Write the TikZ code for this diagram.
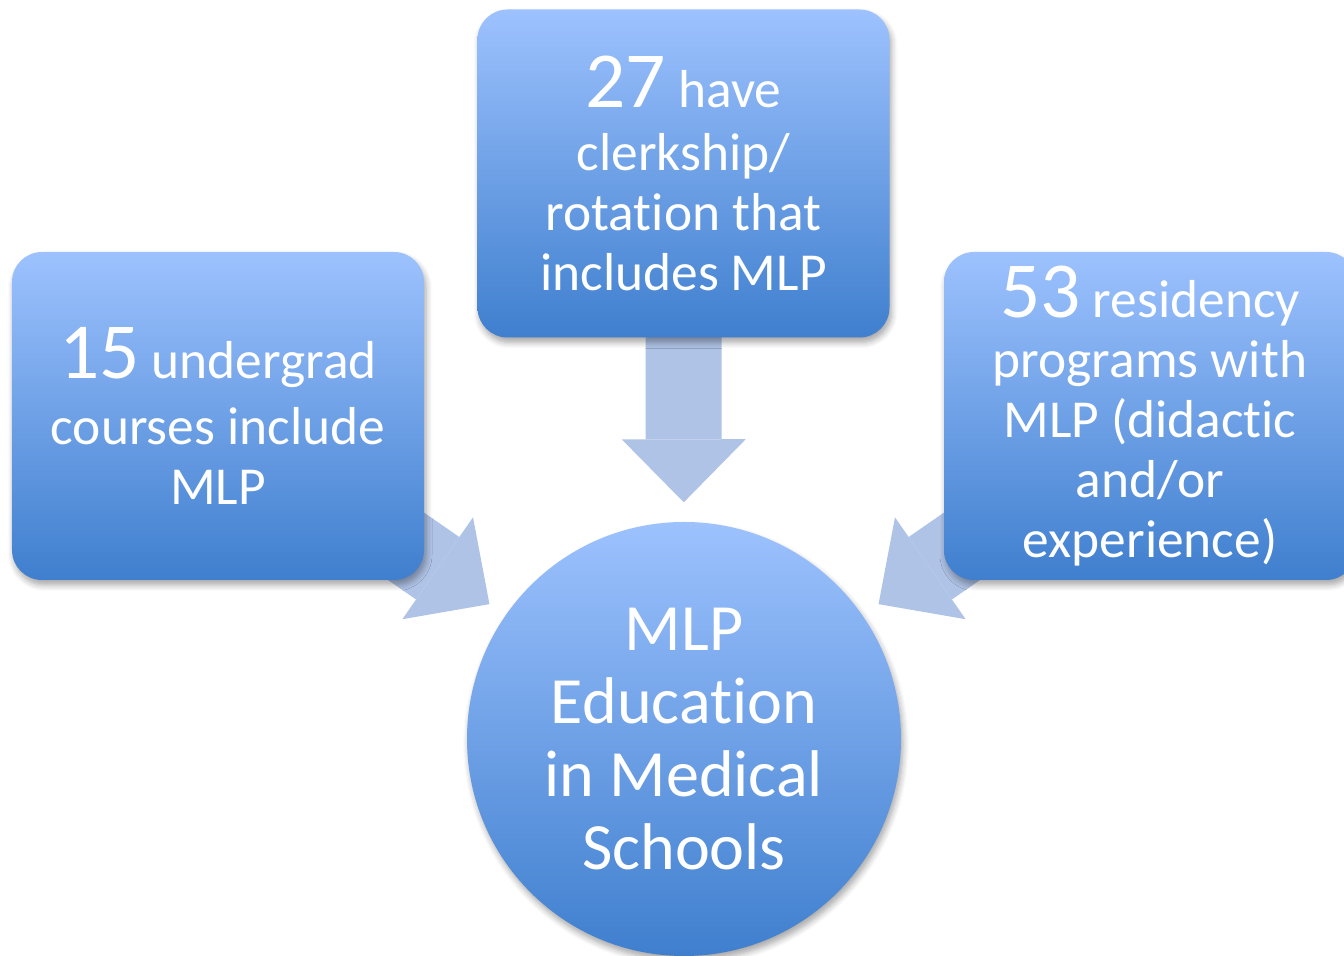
\documentclass[tikz,border=0pt]{standalone}
\usepackage{fontspec}
\setmainfont{Carlito}[Ligatures=NoCommon]
\usetikzlibrary{arrows.meta,shadows.blur,backgrounds}
\definecolor{boxtop}{HTML}{9DC2FE}
\definecolor{boxbottom}{HTML}{3F7FCE}
\definecolor{arrowfill}{HTML}{AFC3E6}
\newcommand\bignum[1]{{\fontsize{22.6}{17.1}\selectfont #1}}

\begin{document}
\begin{tikzpicture}[
        panel/.style={rounded corners=0.3cm, top color=boxtop, bottom color=boxbottom, text=white, align=center,
            minimum width=4.12cm, minimum height=3.28cm, font=\fontsize{15.2}{17.1}\selectfont,
            blur shadow={shadow xshift=0.02cm, shadow yshift=-0.05cm, shadow blur radius=0.06cm, shadow blur steps=6, shadow opacity=35}},
        feed/.style={line width=0.76cm, draw=arrowfill, -{Triangle[length=0.63cm, width=1.24cm, line width=0pt]}, shorten >=0.19cm}]
        \clip (0, 0) rectangle (13.44, 9.56);

        \node[panel] (under) at (2.18, 5.40) {\bignum{15} undergrad\\[0.05cm]courses include\\MLP};
        \node[panel] (clerk) at (6.835, 7.825) {\bignum{27} have\\[0.03cm]clerkship/\\rotation that\\includes MLP};
        \node[panel] (resid) at (11.50, 5.40) {\bignum{53} residency\\programs with\\MLP (didactic\\and/or\\experience)};
        \node[circle, minimum size=4.34cm, top color=boxtop, bottom color=boxbottom, text=white, align=center,
            font=\fontsize{18.8}{20.8}\selectfont,
            blur shadow={shadow xshift=0.02cm, shadow yshift=-0.05cm, shadow blur radius=0.06cm, shadow blur steps=6, shadow opacity=35}]
            (hub) at (6.84, 2.17) {MLP\\Education\\in Medical\\Schools};

        \begin{scope}[on background layer]
            \draw[feed] (under.center) -- (hub);
            \draw[feed] (clerk.center) -- (hub);
            \draw[feed] (resid.center) -- (hub);
        \end{scope}

    \end{tikzpicture}
\end{document}
